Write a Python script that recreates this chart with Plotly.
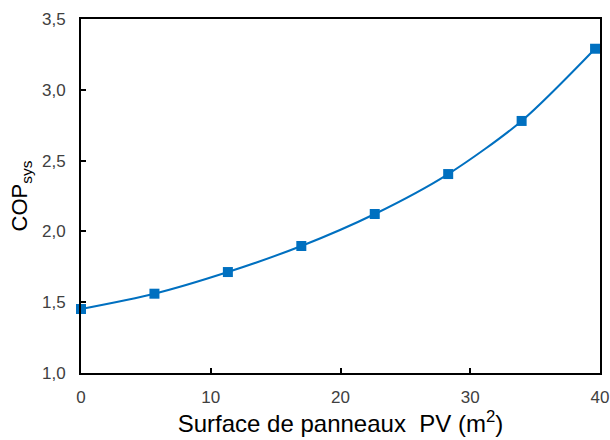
import plotly.graph_objects as go

surface = [0, 5.66, 11.32, 16.98, 22.64, 28.30, 33.96, 39.62]
cop_sys = [1.452, 1.560, 1.713, 1.897, 2.123, 2.405, 2.780, 3.290]

x_ticks = [0, 10, 20, 30, 40]
y_ticks = [1.0, 1.5, 2.0, 2.5, 3.0, 3.5]

fig = go.Figure()
fig.add_trace(go.Scatter(
    x=surface, y=cop_sys, mode="lines+markers",
    line=dict(color="#0070C0", width=2, shape="spline", smoothing=0.8),
    marker=dict(symbol="square", size=10, color="#0070C0"),
    cliponaxis=False, showlegend=False,
))

fam = "Liberation Sans, Arial, sans-serif"
axis_font = dict(family=fam, size=17, color="#404040")
fig.update_layout(
    width=610, height=440,
    margin=dict(l=81, r=10, t=19, b=67, autoexpand=False),
    paper_bgcolor="white", plot_bgcolor="white",
    separators=", ",
    font=dict(family=fam),
    xaxis=dict(
        range=[0, 40], tickvals=x_ticks, tickformat="d",
        showgrid=False, zeroline=False, automargin=False,
        showline=True, linecolor="black", linewidth=2, mirror=True,
        ticks="inside", ticklen=5, tickcolor="black", tickwidth=2,
        tickfont=axis_font, ticklabelstandoff=8,
        title=dict(text="Surface de panneaux\u00a0 PV (m<sup>2</sup>)",
                   font=dict(family=fam, size=24, color="black"),
                   standoff=4),
    ),
    yaxis=dict(
        range=[1.0, 3.5], tickvals=y_ticks, tickformat=".1f",
        showgrid=False, zeroline=False, automargin=False,
        showline=True, linecolor="black", linewidth=2, mirror=True,
        ticks="inside", ticklen=5, tickcolor="black", tickwidth=2,
        tickfont=axis_font, ticklabelstandoff=10,
        title=dict(text="COP<sub>sys</sub>",
                   font=dict(family=fam, size=22, color="black"),
                   standoff=8),
    ),
)

fig.write_html("out.html", config={"displayModeBar": False},
               post_script="document.body.style.margin='0';")
